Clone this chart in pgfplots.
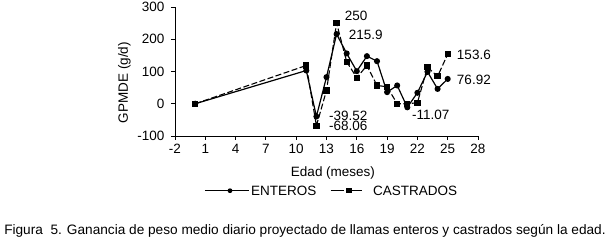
\documentclass[border=0pt]{standalone}
\usepackage{pgfplots}
\pgfplotsset{compat=1.18}
\usepackage{fontspec}
\setmainfont{Liberation Sans}
\newcommand\lfont{\fontsize{13.5}{15}\selectfont}
\begin{document}
\begin{tikzpicture}
\begin{axis}[
  at={(0,0)}, anchor=south west,
  scale only axis, width=303pt, height=129pt,
  xmin=-2, xmax=28, ymin=-100, ymax=300,
  xtick={-2,1,4,7,10,13,16,19,22,25,28},
  ytick={-100,0,100,200,300},
  axis lines=left, axis line style={-, line width=0.9pt},
  tick align=outside, major tick length=4pt,
  tick style={black, line width=0.9pt},
  xtick pos=bottom, ytick pos=left,
  /pgf/number format/assume math mode=true,
  ticklabel style={font=\lfont},
  yticklabel style={xshift=-3pt},
  xticklabel style={yshift=-1pt},
  clip=false,
]
\addplot[black, line width=1.2pt, mark=*, mark size=2.4pt] coordinates {
 (0,0) (11,103) (12,-39.52) (13,82.6) (14,215.9) (15,156) (16,101) (17,147.6)
 (18,132) (19,36) (20,56.7) (21,-11.07) (22,34) (23,99) (24,46) (25,76.92)
};
\addplot[black, line width=1.1pt, dash pattern=on 6pt off 2.5pt, mark=square*, mark size=2.6pt, mark options={solid}] coordinates {
 (0,0) (11,118.7) (12,-68.06) (13,41) (14,250) (15,130) (16,80.6) (17,118.7)
 (18,56.7) (19,52.6) (20,0) (21,0) (22,3) (23,113) (24,85) (25,153.6)
};
\begin{scope}[every node/.style={font=\lfont, anchor=west, inner sep=0pt}]
\node at (axis cs:14.8,272) {250};
\node at (axis cs:15.2,215) {215.9};
\node at (axis cs:13.25,-37) {-39.52};
\node at (axis cs:13.25,-68) {-68.06};
\node at (axis cs:21.45,-33) {-11.07};
\node at (axis cs:25.9,153) {153.6};
\node at (axis cs:25.9,75) {76.92};
\end{scope}
\end{axis}
\node[rotate=90, font=\lfont] at (-50.5pt,53.5pt) {GPMDE (g/d)};
\node[font=\lfont] at (158pt,-37pt) {Edad (meses)};
% legend
\begin{scope}[yshift=-54.7pt]
\draw[black, line width=1.2pt] (30pt,0) -- (74pt,0);
\fill[black] (55pt,0) circle (2.4pt);
\node[anchor=west, inner sep=0pt, font=\lfont] at (76pt,0) {ENTEROS};
\draw[black, line width=1.2pt, dash pattern=on 13pt off 5pt] (155.7pt,0) -- (189pt,0);
\fill[black] (171.4pt,-2.6pt) rectangle (176.6pt,2.6pt);
\node[anchor=west, inner sep=0pt, font=\lfont] at (198pt,0) {CASTRADOS};
\end{scope}
\node[font=\fontsize{13.65}{15}\selectfont, inner sep=0pt] at (130pt,-95pt) {Figura\ \ 5. Ganancia de peso medio diario proyectado de llamas enteros y castrados según la edad.};
\pgfresetboundingbox
\path (-175pt,-107pt) rectangle (436pt,136pt);
\end{tikzpicture}
\end{document}
